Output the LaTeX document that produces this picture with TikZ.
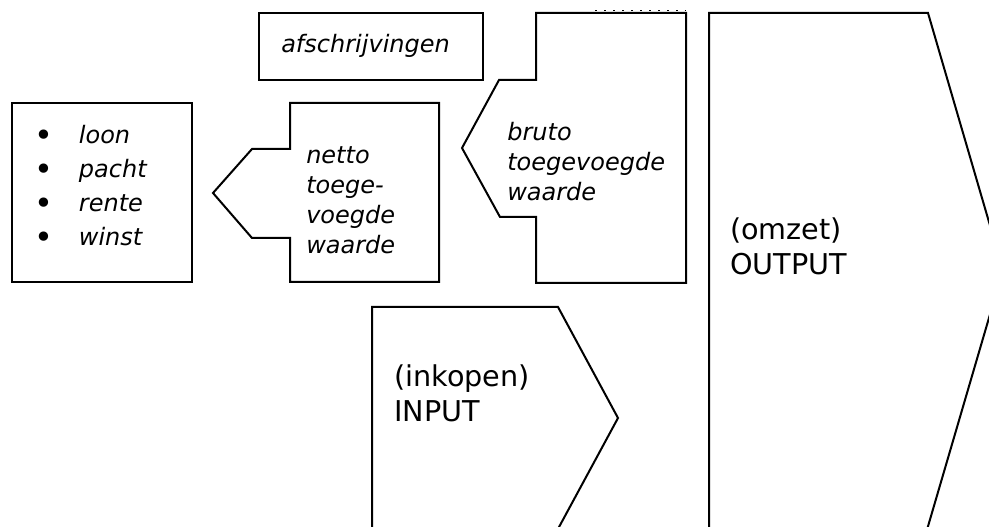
\documentclass[tikz,border=0pt]{standalone}
\usepackage{fontspec}
\setmainfont{DejaVu Sans}
\newcommand\blt{\makebox[33.5pt][l]{\raisebox{-2.2pt}{\upshape\fontsize{24}{24}\selectfont •}}}
\begin{document}
\begin{tikzpicture}[x=0.75pt,y=-0.75pt,
  outline/.style={draw=black, line width=1.5pt, line join=miter},
  itxt/.style={anchor=north west, inner sep=0pt, align=left, font=\fontsize{18}{22.5}\selectfont\itshape},
  uptxt/.style={anchor=north west, inner sep=0pt, align=left, font=\fontsize{21.5}{26.25}\selectfont},
  listtxt/.style={anchor=north west, inner sep=0pt, align=left, font=\fontsize{18}{25.5}\selectfont\itshape},
  dots/.style={draw=black, line width=1pt, dash pattern=on 1.2pt off 5.55pt}]
\useasboundingbox (0,0) rectangle (989,527);
\begin{scope}
\clip (0,0) rectangle (989,527);
% list box
\draw[outline] (12,103) rectangle (192,282);
% afschrijvingen box
\draw[outline] (259,13) rectangle (483,80);
% netto shape
\draw[outline] (290,103) -- (439,103) -- (439,282) -- (290,282) -- (290,238) -- (252,238) -- (213,193) -- (252,149) -- (290,149) -- cycle;
% bruto shape
\draw[outline] (536,13) -- (686,13) -- (686,283) -- (536,283) -- (536,217) -- (500,217) -- (462,148) -- (499,80) -- (536,80) -- cycle;
\draw[dots] (595,10.5) -- (686,10.5);
% input shape
\draw[outline] (372,540) -- (372,307) -- (558,307) -- (618,418) -- (552,540);
% output shape
\draw[outline] (709,540) -- (709,13) -- (928,13) -- (1003,270) -- (924,540);
\end{scope}
% texts
\node[listtxt] (lijst) at (34,119.2) {\strut\blt loon\\\blt pacht\\\blt rente\\\blt winst};
\node[itxt] (afschr) at (281,31) {\strut afschrijvingen};
\node[itxt] (netto) at (306,142) {\strut netto\\toege-\\voegde\\waarde};
\node[itxt] (bruto) at (507,119) {\strut bruto\\toegevoegde\\waarde};
\node[uptxt] (input) at (394,362) {\strut (inkopen)\\INPUT};
\node[uptxt] (output) at (730,215) {\strut (omzet)\\OUTPUT};
\end{tikzpicture}
\end{document}
